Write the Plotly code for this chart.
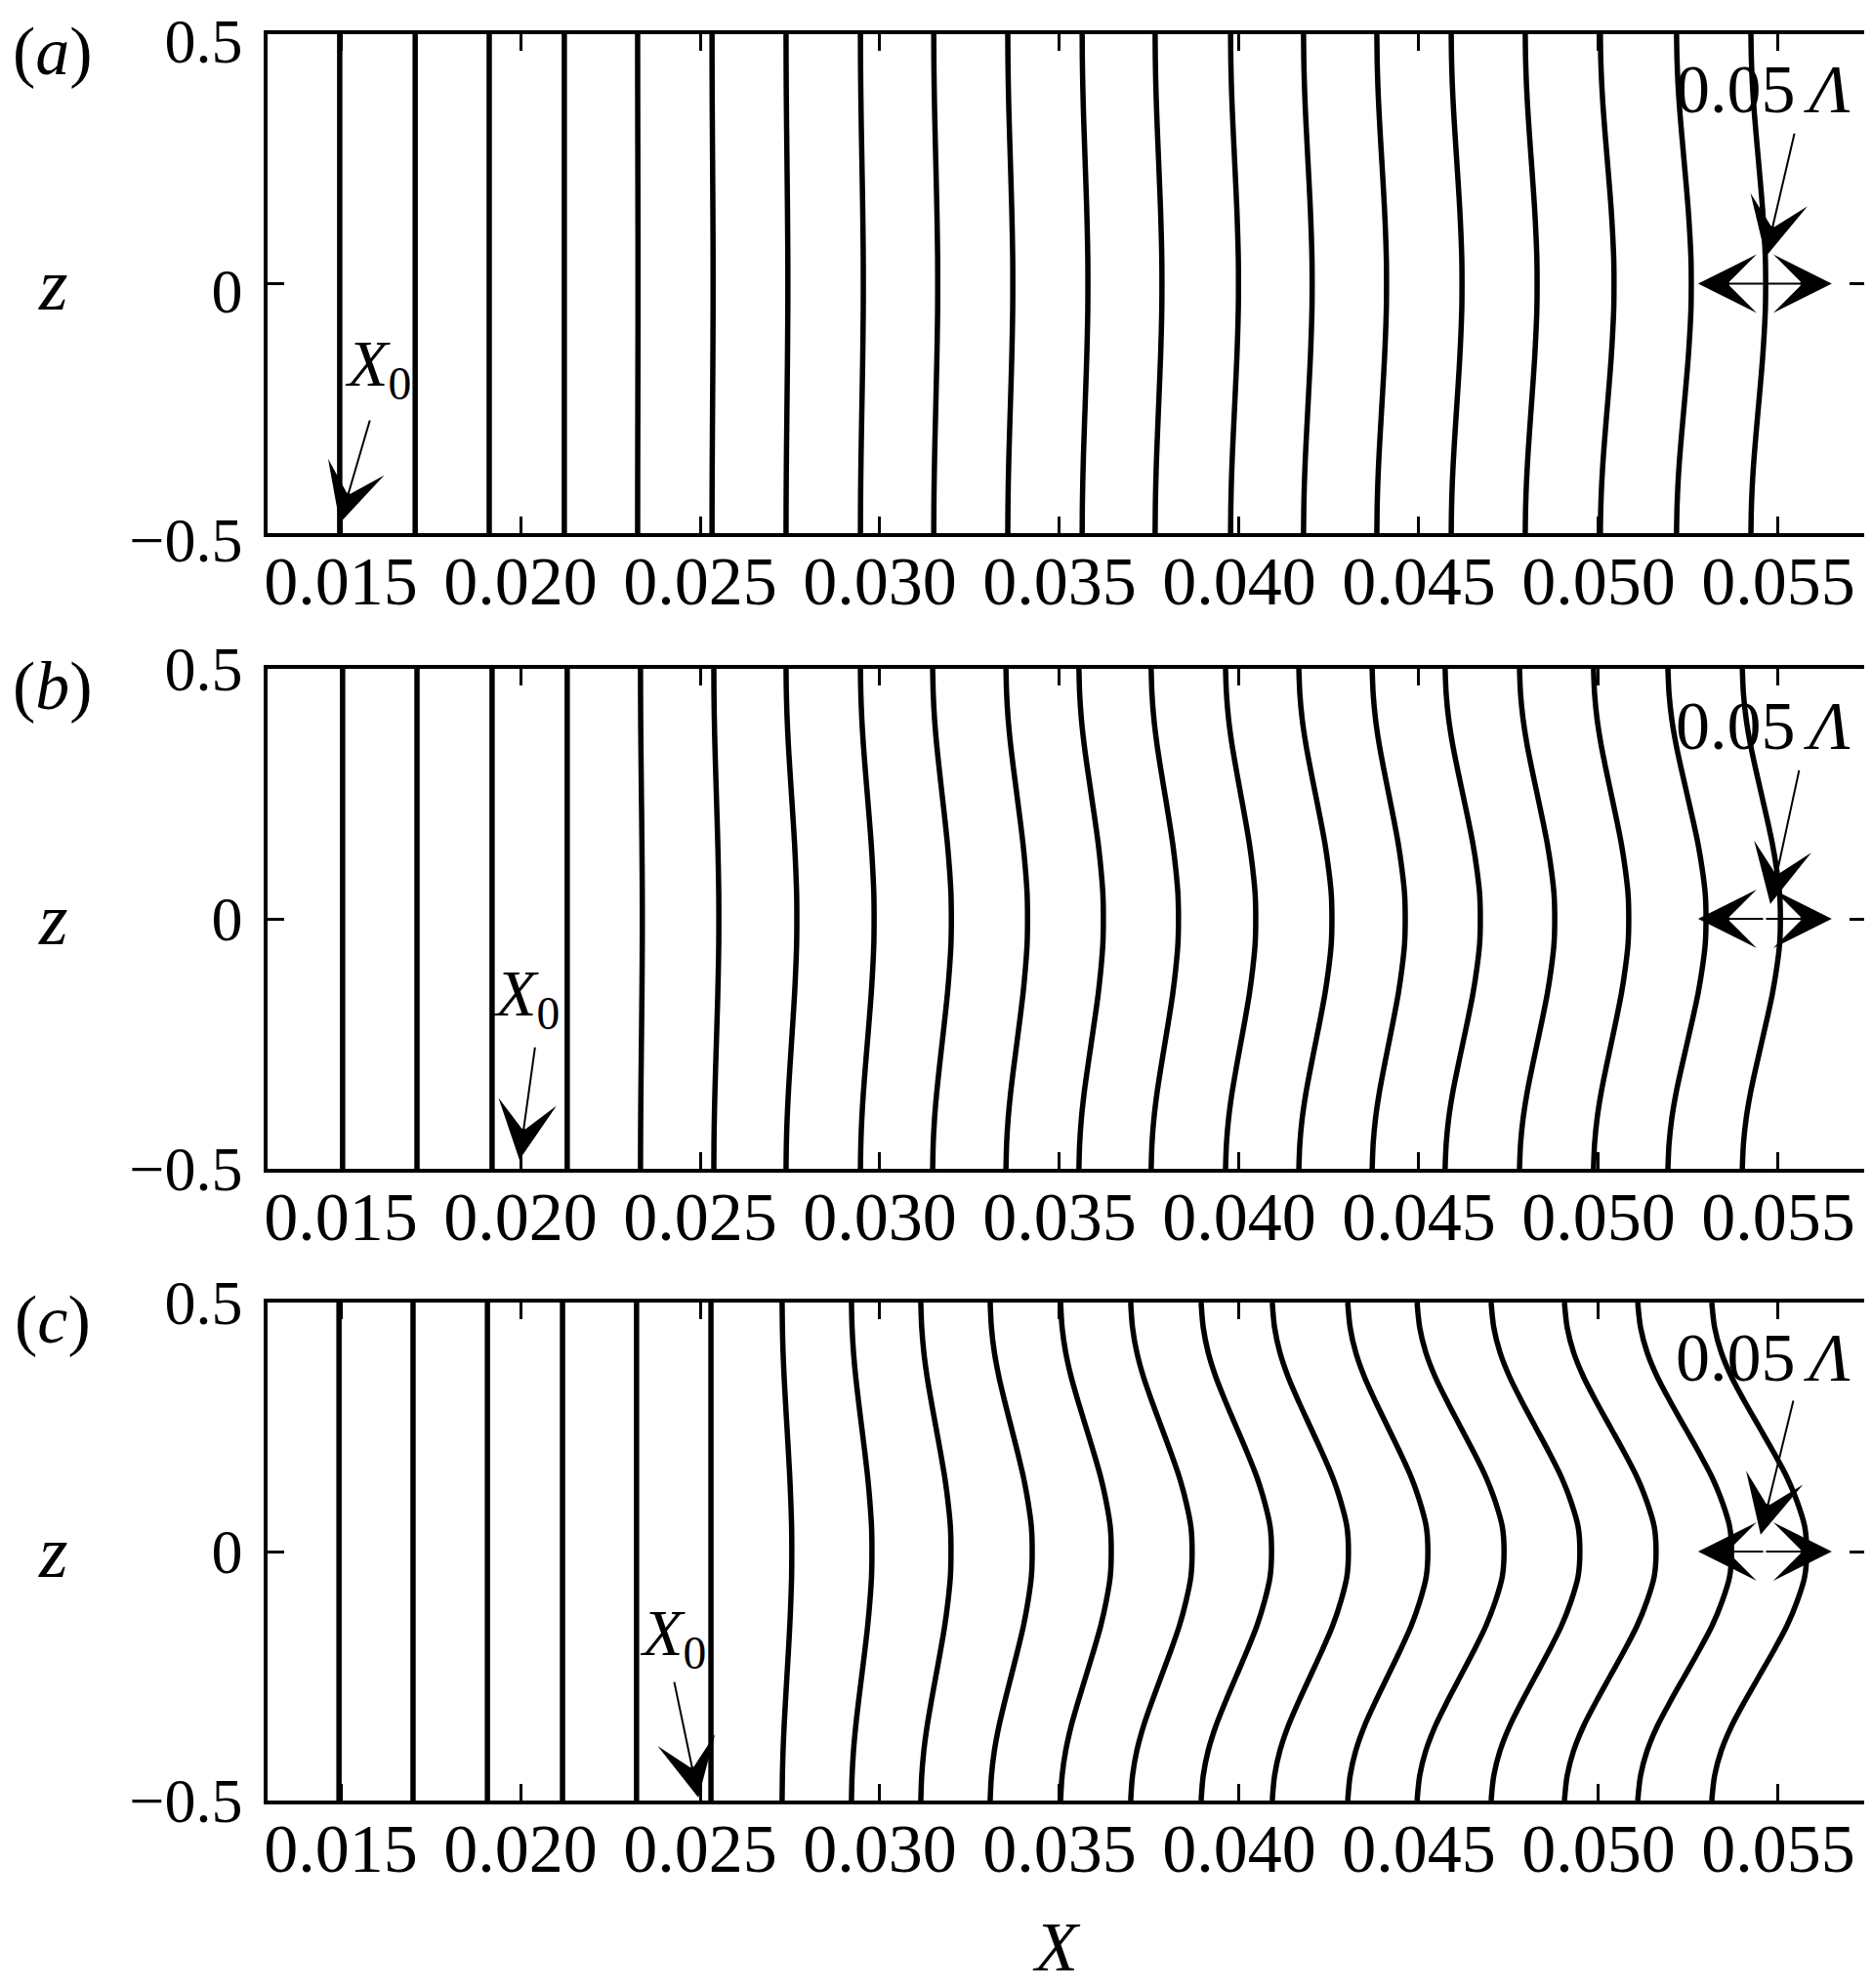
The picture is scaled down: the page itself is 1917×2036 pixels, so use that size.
import plotly.graph_objects as go

# ---------------- data ----------------
# normalised streamwise displacement profile across z (shared by all lines)
Z_PROFILE = [0.5, 0.45, 0.4, 0.35, 0.3, 0.25, 0.2, 0.15, 0.1, 0.05, 0.0,
             -0.05, -0.1, -0.15, -0.2, -0.25, -0.3, -0.35, -0.4, -0.45, -0.5]
SHAPE_PROFILE = [0.0, 0.03, 0.10, 0.21, 0.35, 0.50, 0.65, 0.79, 0.90, 0.98, 1.0,
                 0.98, 0.90, 0.79, 0.65, 0.50, 0.35, 0.21, 0.10, 0.03, 0.0]

# panel (a): X of each line at z = +-0.5 and displacement at z = 0
BASE_A = [0.01497, 0.01707, 0.01913, 0.02122, 0.02326, 0.02533, 0.02739, 0.02946,
          0.03150, 0.03356, 0.03563, 0.03766, 0.03976, 0.04179, 0.04383, 0.04590,
          0.04796, 0.05005, 0.05217, 0.05424]
AMP_A = [0.0, 0.0, 0.0, 0.0, 0.00001, 0.00003, 0.00005, 0.00008, 0.00011, 0.00014,
         0.00016, 0.00019, 0.00022, 0.00024, 0.00027, 0.00030, 0.00033, 0.00038,
         0.00041, 0.00041]

# panel (b)
BASE_B = [0.01505, 0.01712, 0.01921, 0.02130, 0.02334, 0.02538, 0.02739, 0.02946,
          0.03147, 0.03351, 0.03554, 0.03755, 0.03962, 0.04166, 0.04370, 0.04573,
          0.04780, 0.04986, 0.05193, 0.05400]
AMP_B = [0.0, 0.0, 0.0, 0.0, 0.00005, 0.00014, 0.00030, 0.00038, 0.00052, 0.00060,
         0.00068, 0.00076, 0.00084, 0.00092, 0.00092, 0.00098, 0.00098, 0.00098,
         0.00106, 0.00106]

# panel (c)
BASE_C = [0.01495, 0.01701, 0.01908, 0.02117, 0.02323, 0.02530, 0.02728, 0.02921,
          0.03114, 0.03307, 0.03503, 0.03698, 0.03894, 0.04092, 0.04302, 0.04495,
          0.04701, 0.04905, 0.05109, 0.05315]
AMP_C = [0.0, 0.0, 0.0, 0.0, 0.0, 0.0, 0.00027, 0.00057, 0.00084, 0.00117,
         0.00141, 0.00171, 0.00196, 0.00212, 0.00223, 0.00242, 0.00247, 0.00255,
         0.00261, 0.00264]

X_TICKS = [0.015, 0.020, 0.025, 0.030, 0.035, 0.040, 0.045, 0.050, 0.055]
X_TICK_LABELS = ["0.015", "0.020", "0.025", "0.030", "0.035", "0.040", "0.045", "0.050", "0.055"]
Z_TICKS = [-0.5, 0.0, 0.5]
Z_TICK_LABELS = ["\u22120.5", "0", "0.5"]
PANEL_LABELS = ["a", "b", "c"]

# ---------------- layout geometry ----------------
PAGE_OFFSET = 8                      # default body margin of the html page
W, H = 1917 - PAGE_OFFSET, 2036 - PAGE_OFFSET
FONT = "Liberation Serif, Times New Roman, serif"
FS = 70
X_RANGE = [0.012962, 0.057446]


def px(s):
    """screen pixel -> figure pixel"""
    return s - PAGE_OFFSET


X_DOMAIN = [px(274) / W, px(1911) / W]
PANEL_PX = [(px(35), px(546)), (px(685), px(1197)), (px(1334), px(1844))]


def ydom(top, bot):
    return [1 - bot / H, 1 - top / H]


fig = go.Figure()

panels = [(BASE_A, AMP_A), (BASE_B, AMP_B), (BASE_C, AMP_C)]
layout_axes = {}
annotations = []

# annotation anchor positions in data coordinates (X, z)
X0_TEXT = [(0.01603, -0.169), (0.02016, -0.158), (0.02424, -0.171)]
X0_TAIL = [(0.01582, -0.271), (0.02041, -0.254), (0.02427, -0.259)]
X0_TIP = [(0.01497, -0.480), (0.01997, -0.482), (0.02495, -0.494)]
LAM_TEXT = [(0.05457, 0.39), (0.05457, 0.385), (0.05457, 0.39)]
LAM_TAIL = [(0.05546, 0.304), (0.05559, 0.300), (0.05543, 0.306)]
LAM_TIP = [(0.05465, 0.054), (0.05478, 0.030), (0.05451, 0.034)]
DBL_CENTER = 0.05462
DBL_TIPS = (0.05277, 0.05649)

for k, (base, amp) in enumerate(panels):
    sfx = "" if k == 0 else str(k + 1)
    xa, ya = "x" + sfx, "y" + sfx
    for b, a in zip(base, amp):
        fig.add_trace(go.Scatter(
            x=[b + a * p for p in SHAPE_PROFILE], y=Z_PROFILE,
            mode="lines", line=dict(color="black", width=5.5, shape="spline", smoothing=0.8),
            xaxis=xa, yaxis=ya, showlegend=False, hoverinfo="skip"))

    top, bot = PANEL_PX[k]
    common = dict(showline=True, linewidth=3.5, linecolor="black", mirror="ticks",
                  ticks="inside", ticklen=17, tickwidth=3, tickcolor="black",
                  showgrid=False, zeroline=False, automargin=False,
                  ticklabeloverflow="allow")
    layout_axes["xaxis" + sfx] = dict(
        common, domain=X_DOMAIN, range=X_RANGE, anchor=ya,
        tickmode="array", tickvals=X_TICKS, ticktext=X_TICK_LABELS,
        ticklabelstandoff=-15,
        tickfont=dict(family=FONT, size=FS, color="black"))
    layout_axes["yaxis" + sfx] = dict(
        common, domain=ydom(top, bot), range=[-0.5, 0.5], anchor=xa,
        tickmode="array", tickvals=Z_TICKS, ticktext=Z_TICK_LABELS,
        ticklabelstandoff=9, ticklabelshift=(7 if k == 0 else 0),
        tickfont=dict(family=FONT, size=64, color="black"))

    ref = dict(xref=xa, yref=ya)
    aref = dict(axref=xa, ayref=ya)
    arrow = dict(showarrow=True, arrowhead=3, arrowcolor="black", arrowwidth=2,
                 arrowsize=5, standoff=0, startstandoff=0, text="",
                 font=dict(size=1))

    # X0 label + arrow
    annotations.append(dict(ref, x=X0_TEXT[k][0], y=X0_TEXT[k][1], showarrow=False,
                            text="<i>X</i><sub>0</sub>",
                            font=dict(family=FONT, size=68, color="black")))
    annotations.append(dict(ref, **aref, **arrow, x=X0_TIP[k][0], y=X0_TIP[k][1],
                            ax=X0_TAIL[k][0], ay=X0_TAIL[k][1]))
    # 0.05 Lambda label + arrow
    annotations.append(dict(ref, x=LAM_TEXT[k][0], y=LAM_TEXT[k][1], showarrow=False,
                            text="0.05\u2009<i>\u039b</i>",
                            font=dict(family=FONT, size=70, color="black")))
    annotations.append(dict(ref, **aref, **arrow, x=LAM_TIP[k][0], y=LAM_TIP[k][1],
                            ax=LAM_TAIL[k][0], ay=LAM_TAIL[k][1]))
    # double arrow
    for tip in DBL_TIPS:
        annotations.append(dict(ref, **aref, **arrow, x=tip, y=0, ax=DBL_CENTER, ay=0))

    # panel letter and z label
    annotations.append(dict(xref="paper", yref="paper", x=px(54) / W, y=1 - (top + 17) / H,
                            text="(<i>%s</i>)" % PANEL_LABELS[k], showarrow=False,
                            xanchor="center", yanchor="middle",
                            font=dict(family=FONT, size=70, color="black")))
    annotations.append(dict(xref="paper", yref="paper", x=px(54) / W,
                            y=1 - ((top + bot) / 2) / H,
                            text="<i>z</i>", showarrow=False,
                            xanchor="center", yanchor="middle",
                            font=dict(family=FONT, size=76, color="black")))

annotations.append(dict(xref="paper", yref="paper", x=px(1082) / W, y=0,
                        text="<i>X</i>", showarrow=False, xanchor="center",
                        yanchor="bottom", font=dict(family=FONT, size=72, color="black")))

fig.update_layout(width=W, height=H, margin=dict(l=0, r=0, t=0, b=0, autoexpand=False),
                  paper_bgcolor="white", plot_bgcolor="white",
                  annotations=annotations, **layout_axes)

fig.write_html("out.html")
